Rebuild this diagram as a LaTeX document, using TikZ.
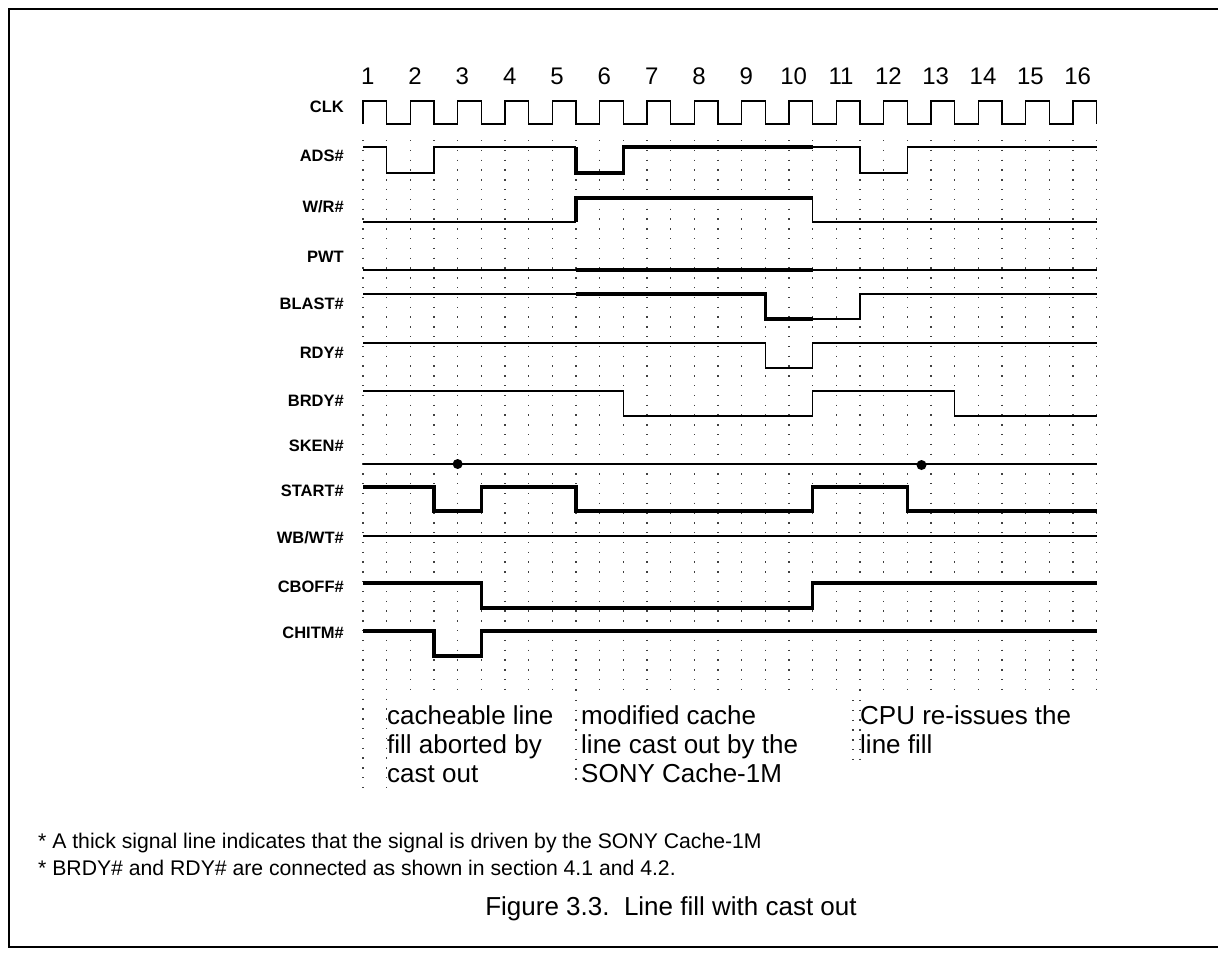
\documentclass[tikz,border=0pt]{standalone}
\usepackage{fontspec}
\setmainfont{Liberation Sans}
\begin{document}
\begin{tikzpicture}[x=1pt,y=-1pt,
  thinsig/.style={line width=1.3pt, line join=miter},
  thicksig/.style={line width=3.2pt, line join=miter},
  griddot/.style={line width=1.3pt, dash pattern=on 1.3pt off 8.5pt, black!75},
  framestyle/.style={line width=1.6pt},
  siglabel/.style={anchor=base east, inner sep=0pt, font=\fontsize{16.5}{20}\selectfont\bfseries},
  cycnum/.style={anchor=base, inner sep=0pt, font=\fontsize{24}{28}\selectfont},
  annot/.style={anchor=base west, inner sep=0pt, font=\fontsize{26}{30}\selectfont},
  foot/.style={anchor=base west, inner sep=0pt, font=\fontsize{21.2}{25}\selectfont},
  capt/.style={anchor=base, inner sep=0pt, font=\fontsize{26}{30}\selectfont},
  sdot/.style={circle, fill=black, inner sep=0pt, minimum size=10pt}
]
\useasboundingbox (0,0) rectangle (1218,962);
% frame
\draw[framestyle] (1218,9) -- (9,9) -- (9,947) -- (1218,947);

% signal labels
\node[siglabel] (lclk)   at (344,112) {CLK};
\node[siglabel] (lads)   at (344,161) {ADS\#};
\node[siglabel] (lwr)    at (344,212) {W/R\#};
\node[siglabel] (lpwt)   at (344,262) {PWT};
\node[siglabel] (lblast) at (344,309) {BLAST\#};
\node[siglabel] (lrdy)   at (344,358) {RDY\#};
\node[siglabel] (lbrdy)  at (344,406) {BRDY\#};
\node[siglabel] (lsken)  at (344,451) {SKEN\#};
\node[siglabel] (lstart) at (344,496) {START\#};
\node[siglabel] (lwbwt)  at (344,543) {WB/WT\#};
\node[siglabel] (lcboff) at (344,592) {CBOFF\#};
\node[siglabel] (lchitm) at (344,638) {CHITM\#};

\begin{scope}[x=47.33pt, shift={(363pt,0pt)}]
  % dotted grid columns at every half cycle
  \foreach \t in {1,1.5,...,15.5} {
    \draw[griddot] (\t,140) -- (\t,690);
  }
  \draw[griddot] (0,140) -- (0,788);
  \draw[griddot] (0.5,140) -- (0.5,790);
  \draw[griddot] (4.5,690) -- (4.5,784);
  \draw[griddot] (10.35,700) -- (10.35,768);
  \draw[griddot] (10.5,690) -- (10.5,768);

  % cycle numbers
  \foreach \n in {1,...,16} {
    \node[cycnum] (c\n) at ({\n-1+0.1},84) {\n};
  }

  % CLK
  \draw[thinsig] (0,124) \foreach \k in {0,...,14} { -- (\k,124) -- (\k,101) -- (\k+0.5,101) -- (\k+0.5,124) } -- (15,124) -- (15,101) -- (15.5,101) -- (15.5,124);

  % ADS#  hi 147 lo 173
  \draw[thinsig] (0,147) -- (0.5,147) -- (0.5,173) -- (1.5,173) -- (1.5,147) -- (4.5,147);
  \draw[thicksig] (4.5,147) -- (4.5,173) -- (5.5,173) -- (5.5,147) -- (9.5,147);
  \draw[thinsig] (9.5,147) -- (10.5,147) -- (10.5,173) -- (11.5,173) -- (11.5,147) -- (15.5,147);

  % W/R#  hi 198 lo 222
  \draw[thinsig] (0,222) -- (4.5,222);
  \draw[thicksig] (4.5,222) -- (4.5,198) -- (9.5,198);
  \draw[thinsig] (9.5,198) -- (9.5,222) -- (15.5,222);

  % PWT 270
  \draw[thinsig] (0,270) -- (4.5,270);
  \draw[thicksig] (4.5,270) -- (9.5,270);
  \draw[thinsig] (9.5,270) -- (15.5,270);

  % BLAST# hi 294 lo 319
  \draw[thinsig] (0,294) -- (4.5,294);
  \draw[thicksig] (4.5,294) -- (8.5,294) -- (8.5,319) -- (9.5,319);
  \draw[thinsig] (9.5,319) -- (10.5,319) -- (10.5,294) -- (15.5,294);

  % RDY# hi 343 lo 368
  \draw[thinsig] (0,343) -- (8.5,343) -- (8.5,368) -- (9.5,368) -- (9.5,343) -- (15.5,343);

  % BRDY# hi 391 lo 416
  \draw[thinsig] (0,391) -- (5.5,391) -- (5.5,416) -- (9.5,416) -- (9.5,391) -- (12.5,391) -- (12.5,416) -- (15.5,416);

  % SKEN# 464
  \draw[thinsig] (0,464) -- (15.5,464);
  \node[sdot] (skd1) at (2,464) {};
  \node[sdot] (skd2) at (11.8,465) {};

  % START# hi 487 lo 511
  \draw[thicksig] (0,487) -- (1.5,487) -- (1.5,511) -- (2.5,511) -- (2.5,487) -- (4.5,487) -- (4.5,511) -- (9.5,511) -- (9.5,487) -- (11.5,487) -- (11.5,511) -- (15.5,511);

  % WB/WT# 536
  \draw[thinsig] (0,536) -- (15.5,536);

  % CBOFF# hi 583 lo 608
  \draw[thicksig] (0,583) -- (2.5,583) -- (2.5,608) -- (9.5,608) -- (9.5,583) -- (15.5,583);

  % CHITM# hi 631 lo 656
  \draw[thicksig] (0,631) -- (1.5,631) -- (1.5,656) -- (2.5,656) -- (2.5,631) -- (15.5,631);
\end{scope}

% annotations
\node[annot] (a1) at (387,724) {cacheable line};
\node[annot] (a2) at (387,753) {fill aborted by};
\node[annot] (a3) at (387,782) {cast out};
\node[annot] (b1) at (581,724) {modified cache};
\node[annot] (b2) at (581,753) {line cast out by the};
\node[annot] (b3) at (581,782) {SONY Cache-1M};
\node[annot] (d1) at (860,724) {CPU re-issues the};
\node[annot] (d2) at (860,753) {line fill};

% footnotes
\node[foot] (f1) at (38,848) {* A thick signal line indicates that the signal is driven by the SONY Cache-1M};
\node[foot] (f2) at (38,875) {* BRDY\# and RDY\# are connected as shown in section 4.1 and 4.2.};

% caption
\node[capt] (cap) at (671,915) {Figure 3.3.\ \ Line fill with cast out};
\end{tikzpicture}
\end{document}
